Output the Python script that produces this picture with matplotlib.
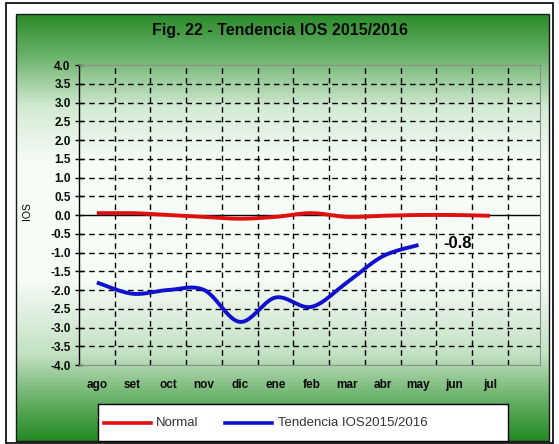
import numpy as np
import matplotlib
matplotlib.use("Agg")
import matplotlib.pyplot as plt
from matplotlib.patches import Rectangle
from matplotlib.colors import LinearSegmentedColormap
from matplotlib.lines import Line2D

plt.rcParams['axes.unicode_minus'] = False
plt.rcParams['font.family'] = ['Liberation Sans', 'DejaVu Sans']

# ---------------- data ----------------
months = ["ago", "set", "oct", "nov", "dic", "ene", "feb", "mar", "abr", "may", "jun", "jul"]
normal = [0.05, 0.05, 0.0, -0.05, -0.1, -0.05, 0.05, -0.05, -0.02, 0.0, 0.0, -0.02]
tendencia = [-1.8, -2.1, -2.0, -2.0, -2.85, -2.2, -2.45, -1.8, -1.1, -0.8]
y_ticks = [4.0, 3.5, 3.0, 2.5, 2.0, 1.5, 1.0, 0.5, 0.0, -0.5, -1.0, -1.5, -2.0, -2.5, -3.0, -3.5, -4.0]
y_tick_labels = ["4.0", "3.5", "3.0", "2.5", "2.0", "1.5", "1.0", "0.5", "0.0", "-0.5", "-1.0",
                 "-1.5", "-2.0", "-2.5", "-3.0", "-3.5", "-4.0"]
last_label = "-0.8"
title = "Fig. 22 - Tendencia IOS 2015/2016"


def smooth(xs, ys, n=24):
    """Bezier smoothing like Excel's smoothed lines."""
    xs = np.asarray(xs, float)
    ys = np.asarray(ys, float)
    P = np.column_stack([xs, ys])
    P = np.vstack([P[0], P, P[-1]])
    out = []
    for i in range(1, len(P) - 2):
        p0, p1, p2, p3 = P[i - 1], P[i], P[i + 1], P[i + 2]
        c1 = p1 + (p2 - p0) / 6.0
        c2 = p2 - (p3 - p1) / 6.0
        t = np.linspace(0, 1, n)[:, None]
        seg = ((1 - t) ** 3) * p1 + 3 * ((1 - t) ** 2) * t * c1 + 3 * (1 - t) * t ** 2 * c2 + t ** 3 * p2
        out.append(seg if i == 1 else seg[1:])
    S = np.vstack(out)
    return S[:, 0], S[:, 1]


W, H = 559, 444
fig = plt.figure(figsize=(W / 100, H / 100), dpi=100)
fig.patch.set_facecolor("white")

def fx(px):
    return px / W

def fy(py):
    return 1 - py / H

# green gradient chart area
gl, gt, gr, gb = 16, 14, 549, 441
bg = fig.add_axes([fx(gl), fy(gb), fx(gr - gl), (gb - gt) / H])
bg.set_axis_off()
cmap = LinearSegmentedColormap.from_list("g", [
    (0.0, (0.16, 0.54, 0.16)),
    (0.10, (0.42, 0.70, 0.42)),
    (0.22, (0.83, 0.92, 0.83)),
    (0.35, (0.97, 0.99, 0.97)),
    (0.62, (0.97, 0.99, 0.97)),
    (0.80, (0.76, 0.88, 0.76)),
    (0.90, (0.42, 0.70, 0.42)),
    (1.0, (0.14, 0.54, 0.14)),
])
grad = np.linspace(0, 1, 256)[:, None]
bg.imshow(grad, aspect="auto", cmap=cmap, extent=[0, 1, 1, 0])
bg.set_xlim(0, 1)
bg.set_ylim(1, 0)
bg.add_patch(Rectangle((0, 0), 1, 1, fill=False, ec="#1a1a1a", lw=1.0, transform=bg.transAxes, clip_on=False))

# outer border
fig.patches.append(Rectangle((fx(6), fy(443)), fx(547), (443 - 3) / H, fill=False, ec="black",
                             lw=1.2, transform=fig.transFigure, zorder=10))

# plot area
pl, pt, pr, pb = 79, 65, 540, 365
ax = fig.add_axes([fx(pl), fy(pb), fx(pr - pl), (pb - pt) / H])
ax.set_facecolor("none")
ax.set_xlim(-0.5, 12.4)
ax.set_ylim(-4.0, 4.0)

# grid
dash = (0, (4, 3))
for yv in y_ticks:
    if yv not in (0.0, -4.0, 4.0):
        ax.axhline(yv, color="black", lw=1.0, ls=dash, zorder=1)
for i in range(len(months)):
    ax.axvline(i + 0.5, color="black", lw=1.0, ls=dash, zorder=1)

for s in ["top", "right", "bottom"]:
    ax.spines[s].set_color("#8c8c8c")
    ax.spines[s].set_linewidth(0.8)
ax.spines["left"].set_color("black")
ax.spines["left"].set_linewidth(1.0)
ax.axhline(0, color="black", lw=1.0, zorder=2)

ax.set_yticks(y_ticks)
ax.set_yticklabels(y_tick_labels, fontsize=8.5, fontweight="heavy", color="#0a0a0a")
ax.tick_params(axis="y", direction="inout", length=6, width=1.0, pad=3)
ax.set_xticks(range(len(months)))
ax.set_xticklabels(months, fontsize=8.5, fontweight="heavy", color="#0a0a0a")
ax.tick_params(axis="x", length=0, pad=10)

xn = np.arange(len(normal))
sx, sy = smooth(xn, normal)
ax.plot(sx, sy, color="#e01010", lw=2.8, zorder=3, solid_capstyle="butt")
xt = np.arange(len(tendencia))
sx, sy = smooth(xt, tendencia)
ax.plot(sx, sy, color="#1010d0", lw=2.8, zorder=4, solid_capstyle="butt")

ax.annotate(last_label, (xt[-1], tendencia[-1]), xytext=(28, 1), textcoords="offset points",
            ha="center", va="center", fontsize=12, fontweight="heavy", color="black")

fig.text(fx(27), fy(211), "IOS", rotation=90, ha="center", va="center", fontsize=7.5)
fig.text(fx(280), fy(30), title, ha="center", va="center", fontsize=11.5, fontweight="heavy",
         color="#0a0a0a")

# legend
leg = fig.add_axes([fx(98), fy(441), fx(508 - 98), (441 - 404) / H])
leg.set_xlim(98, 508)
leg.set_ylim(441, 404)
leg.set_xticks([])
leg.set_yticks([])
leg.set_facecolor("white")
for s in leg.spines.values():
    s.set_color("black")
    s.set_linewidth(1.0)
leg.add_line(Line2D([104, 151], [423, 423], color="#e01010", lw=2.6))
leg.text(156, 423, "Normal", ha="left", va="center", fontsize=9.5, color="#333333")
leg.add_line(Line2D([225, 272], [423, 423], color="#1010d0", lw=2.6))
leg.text(278, 423, "Tendencia IOS2015/2016", ha="left", va="center", fontsize=9.5, color="#333333")

fig.savefig("out.png", dpi=100)
